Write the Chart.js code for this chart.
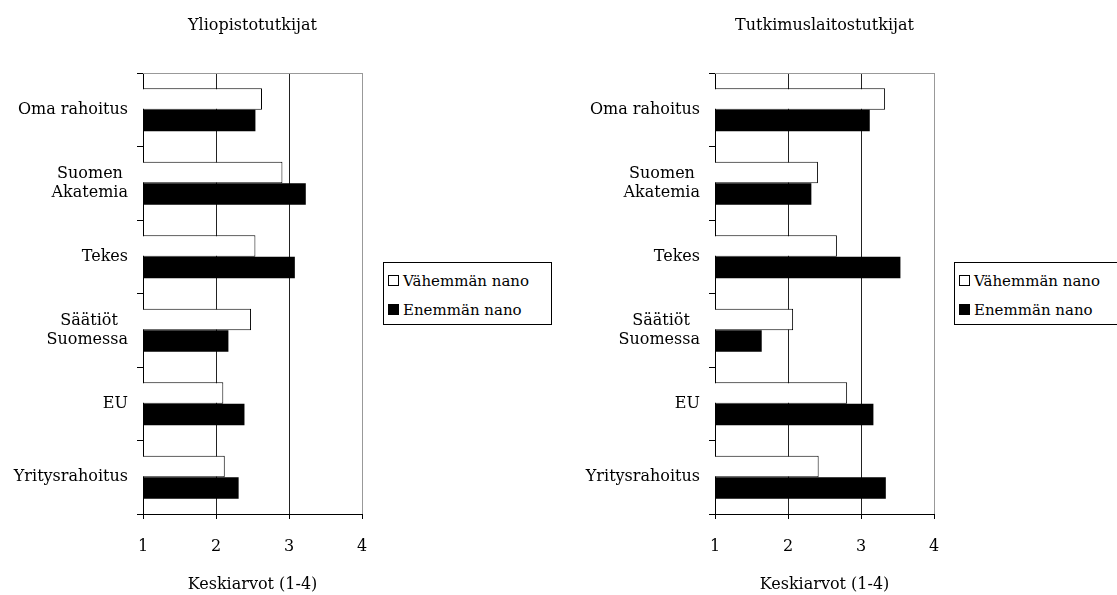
<!DOCTYPE html>
<html>
<head>
<meta charset="utf-8">
<script src="https://cdn.jsdelivr.net/npm/chart.js@4/dist/chart.umd.min.js"></script>
<style>
  body { margin: 0; background: #fff; width: 1117px; height: 595px; overflow: hidden; position: relative; font-family: "DejaVu Serif", serif; }
  canvas { position: absolute; top: 0; }
  .legend { position: absolute; width: 167px; height: 61px; border: 1px solid #000; background: #fff; font-size: 15px; color: #000; }
  .legend div { position: absolute; left: 4px; white-space: nowrap; line-height: 18px; }
  .legend span { display: inline-block; width: 9px; height: 9px; border: 1px solid #000; margin-right: 4px; vertical-align: 0px; }
</style>
</head>
<body>
<canvas id="left" width="505" height="595" style="left:0px"></canvas>
<canvas id="right" width="505" height="595" style="left:572px"></canvas>
<div class="legend" id="legLeft" style="left:383px; top:262px"></div>
<div class="legend" id="legRight" style="left:954px; top:262px"></div>
<script>
// two-line labels: the short first line is padded so it sits centred over the second
const categories = ["Oma rahoitus", ["Suomen\u00a0", "Akatemia"], "Tekes", ["Säätiöt\u00a0\u00a0", "Suomessa"], "EU", "Yritysrahoitus"];
const seriesNames = ["Vähemmän nano", "Enemmän nano"];
const xTicks = [1, 2, 3, 4];

// Yliopistotutkijat
const yliopistoVahemman = [2.63, 2.91, 2.54, 2.48, 2.10, 2.12];
const yliopistoEnemman = [2.54, 3.23, 3.08, 2.17, 2.39, 2.31];

// Tutkimuslaitostutkijat
const tutkimusVahemman = [3.33, 2.41, 2.67, 2.07, 2.81, 2.42];
const tutkimusEnemman = [3.12, 2.32, 3.54, 1.64, 3.17, 3.34];

const fnt = { family: "DejaVu Serif", size: 16, weight: 'normal' };

// thin grey line along the top of the plot
const topFrame = {
  id: 'topFrame',
  beforeDatasetsDraw(chart) {
    const { ctx, chartArea: a } = chart;
    ctx.save();
    ctx.strokeStyle = '#999';
    ctx.lineWidth = 1;
    ctx.beginPath();
    ctx.moveTo(a.left, Math.round(a.top) + 0.5);
    ctx.lineTo(a.right, Math.round(a.top) + 0.5);
    ctx.stroke();
    ctx.restore();
  }
};

function makeChart(id, title, vah, enem) {
  const ctx = document.getElementById(id).getContext("2d");
  return new Chart(ctx, {
    type: 'bar',
    data: {
      labels: categories,
      datasets: [
        { label: seriesNames[0], data: vah, backgroundColor: '#fff', borderColor: '#000', borderWidth: 1 },
        { label: seriesNames[1], data: enem, backgroundColor: '#000', borderColor: '#000', borderWidth: 0 }
      ]
    },
    options: {
      indexAxis: 'y',
      responsive: false,
      animation: false,
      devicePixelRatio: 1,
      categoryPercentage: 0.585,
      barPercentage: 1.0,
      layout: { padding: 0 },
      plugins: {
        legend: { display: false },
        tooltip: { enabled: false },
        title: {
          display: true, text: title, color: '#000', font: fnt,
          padding: { top: 16, bottom: 37.8 }
        }
      },
      scales: {
        x: {
          type: 'linear', min: 1, max: 4,
          afterBuildTicks: s => { s.ticks = xTicks.map(v => ({ value: v })); },
          ticks: { color: '#000', font: fnt, padding: 18 },
          grid: {
            color: c => (c.tick && c.tick.value === 4) ? '#999' : '#222',
            tickColor: '#000', tickLength: 5
          },
          border: { color: '#000' },
          title: { display: true, text: 'Keskiarvot (1-4)', color: '#000', font: fnt, padding: { top: 0, bottom: 1 } },
          afterFit: s => { s.height = 81; }
        },
        y: {
          grid: { drawOnChartArea: false, tickColor: '#000', tickLength: 6, offset: true },
          border: { color: '#000' },
          ticks: { color: '#000', font: fnt, padding: 9 },
          afterFit: s => { s.width = 143; }
        },
        // empty right-hand axis keeps the plot centred under the title
        yRight: {
          type: 'category', position: 'right', labels: categories,
          grid: { display: false }, border: { display: false },
          ticks: { display: false },
          afterFit: s => { s.width = 143; }
        }
      }
    },
    plugins: [topFrame]
  });
}

makeChart("left", "Yliopistotutkijat", yliopistoVahemman, yliopistoEnemman);
makeChart("right", "Tutkimuslaitostutkijat", tutkimusVahemman, tutkimusEnemman);

function fillLegend(id) {
  const el = document.getElementById(id);
  el.innerHTML =
    '<div style="top:9px"><span style="background:#fff"></span>' + seriesNames[0] + '</div>' +
    '<div style="top:38px"><span style="background:#000"></span>' + seriesNames[1] + '</div>';
}
fillLegend("legLeft");
fillLegend("legRight");
</script>
</body>
</html>
